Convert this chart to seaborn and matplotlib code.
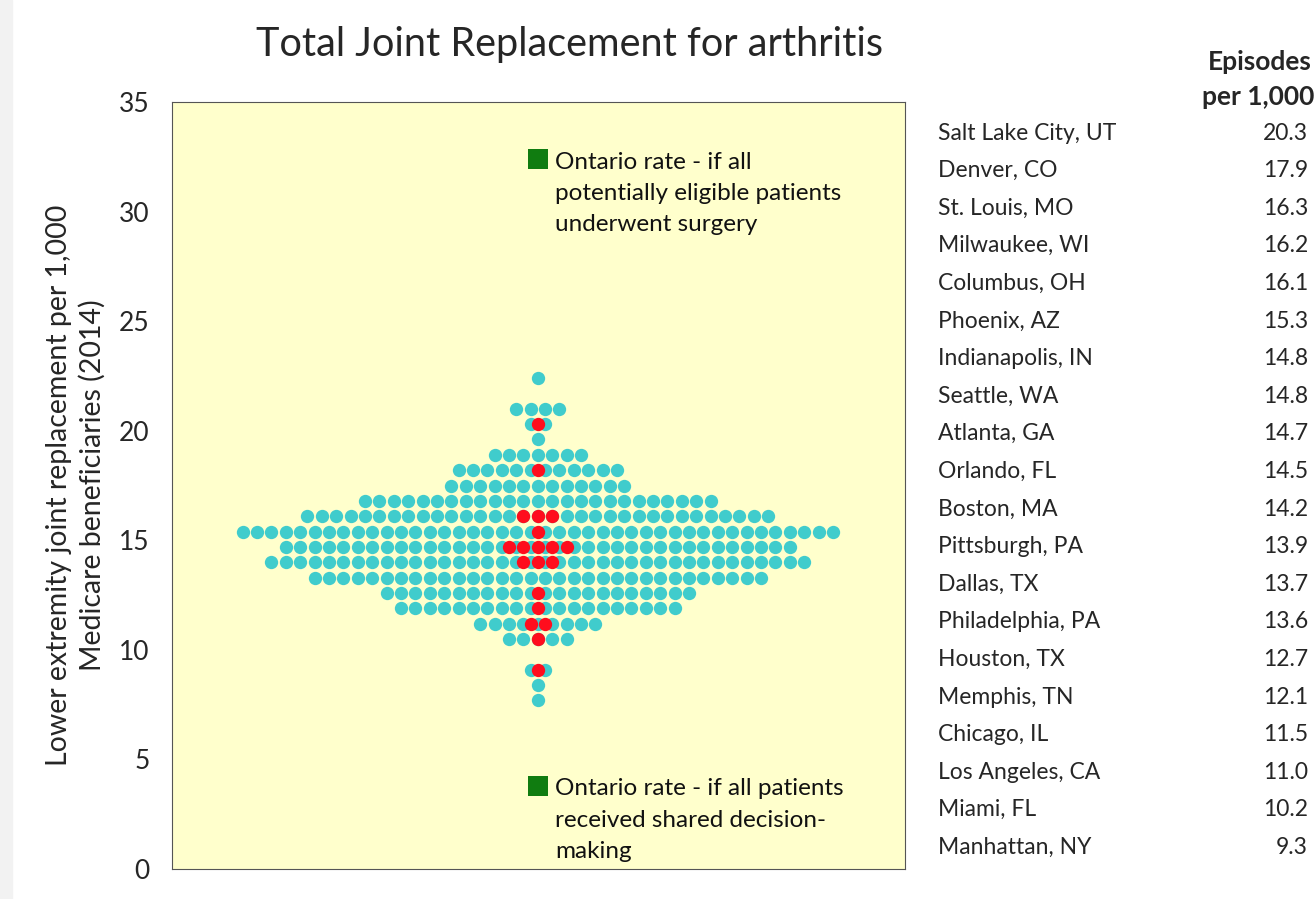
import numpy as np
import pandas as pd
import seaborn as sns
import matplotlib.pyplot as plt
from matplotlib.patches import Rectangle

# rows of the dot chart: rate (per 1,000) and number of HRRs in that row
row_rates = [7.7, 8.4, 9.1, 10.5, 11.2, 11.9, 12.6, 13.3, 14.0, 14.7,
             15.4, 16.1, 16.8, 17.5, 18.2, 18.9, 19.6, 20.3, 21.0, 22.4]
row_counts = [1, 1, 2, 5, 9, 20, 22, 32, 38, 36,
              42, 33, 25, 13, 12, 7, 1, 2, 4, 1]

# highlighted cities (table on the right) and the row each dot sits in
cities = ["Salt Lake City, UT", "Denver, CO", "St. Louis, MO", "Milwaukee, WI",
          "Columbus, OH", "Phoenix, AZ", "Indianapolis, IN", "Seattle, WA",
          "Atlanta, GA", "Orlando, FL", "Boston, MA", "Pittsburgh, PA",
          "Dallas, TX", "Philadelphia, PA", "Houston, TX", "Memphis, TN",
          "Chicago, IL", "Los Angeles, CA", "Miami, FL", "Manhattan, NY"]
episodes = [20.3, 17.9, 16.3, 16.2, 16.1, 15.3, 14.8, 14.8, 14.7, 14.5,
            14.2, 13.9, 13.7, 13.6, 12.7, 12.1, 11.5, 11.0, 10.2, 9.3]
city_rows = [20.3, 18.2, 16.1, 16.1, 16.1, 15.4, 14.7, 14.7, 14.7, 14.7,
             14.7, 14.0, 14.0, 14.0, 12.6, 11.9, 11.2, 11.2, 10.5, 9.1]

# Ontario reference rates
ontario_rates = [32.4, 3.8]
ontario_labels = ["Ontario rate - if all\npotentially eligible patients\nunderwent surgery",
                  "Ontario rate - if all patients\nreceived shared decision-\nmaking"]


def spread(values):
    # lay out equal values side by side, centred on 0
    xs, ys = [], []
    for v in pd.unique(pd.Series(values)):
        n = int(np.sum(np.array(values) == v))
        xs += list(np.arange(n) - (n - 1) / 2)
        ys += [v] * n
    return pd.DataFrame({"pos": xs, "rate": ys})


all_rates = np.repeat(row_rates, row_counts)
dots = spread(list(all_rates))
reds = spread(city_rows)
ont = pd.DataFrame({"pos": [0, 0], "rate": ontario_rates})

sns.set_theme(style="white")
plt.rcParams['font.family'] = ['Lato', 'DejaVu Sans']

fig = plt.figure(figsize=(13.16, 8.99), dpi=100)
fig.patches.append(Rectangle((0, 0), 0.009, 1, transform=fig.transFigure,
                             color="#f2f2f2", zorder=-1))
ax = fig.add_axes([0.1307, 0.0334, 0.557, 0.8531])
ax.set_facecolor("#ffffcc")

sns.scatterplot(data=dots, x="pos", y="rate", ax=ax, color="#40cccc",
                s=92, linewidth=0, zorder=2)
sns.scatterplot(data=reds, x="pos", y="rate", ax=ax, color="#ff0d1d",
                s=92, linewidth=0, zorder=3)
sns.scatterplot(data=ont, x="pos", y="rate", ax=ax, color="#107c10",
                marker="s", s=190, linewidth=0, zorder=3)

# labels: first line level with the green square
for r, lab in zip(ontario_rates, ontario_labels):
    ax.text(1.2, r - 1.57, lab, fontsize=17.5, va="center", ha="left",
            linespacing=1.6, color="#111111")

ax.set_xlim(-25.4, 25.5)
ax.set_ylim(0, 35)
ax.set_xticks([])
ax.set_yticks(range(0, 36, 5))
ax.tick_params(axis="y", labelsize=19, pad=16, length=0)
ax.set_xlabel("")
ax.set_ylabel("Lower extremity joint replacement per 1,000\nMedicare beneficiaries (2014)",
              fontsize=20.5, labelpad=10, linespacing=1.3)
for s in ax.spines.values():
    s.set_color("#555555")
    s.set_linewidth(0.8)

fig.text(0.433, 0.951, "Total Joint Replacement for arthritis",
         fontsize=28.5, ha="center", va="center")

# table on the right
fig.text(0.997, 0.931, "Episodes", fontsize=19, fontweight="bold",
         ha="right", va="center")
fig.text(0.999, 0.892, "per 1,000", fontsize=19, fontweight="bold",
         ha="right", va="center")
for i, (c, v) in enumerate(zip(cities, episodes)):
    y = 1 - (133 + i * 37.6) / 899
    fig.text(0.713, y, c, fontsize=16.5, ha="left", va="center")
    fig.text(0.994, y, f"{v:.1f}", fontsize=16.5, ha="right", va="center")

plt.savefig("out.png", dpi=100)
plt.close()
